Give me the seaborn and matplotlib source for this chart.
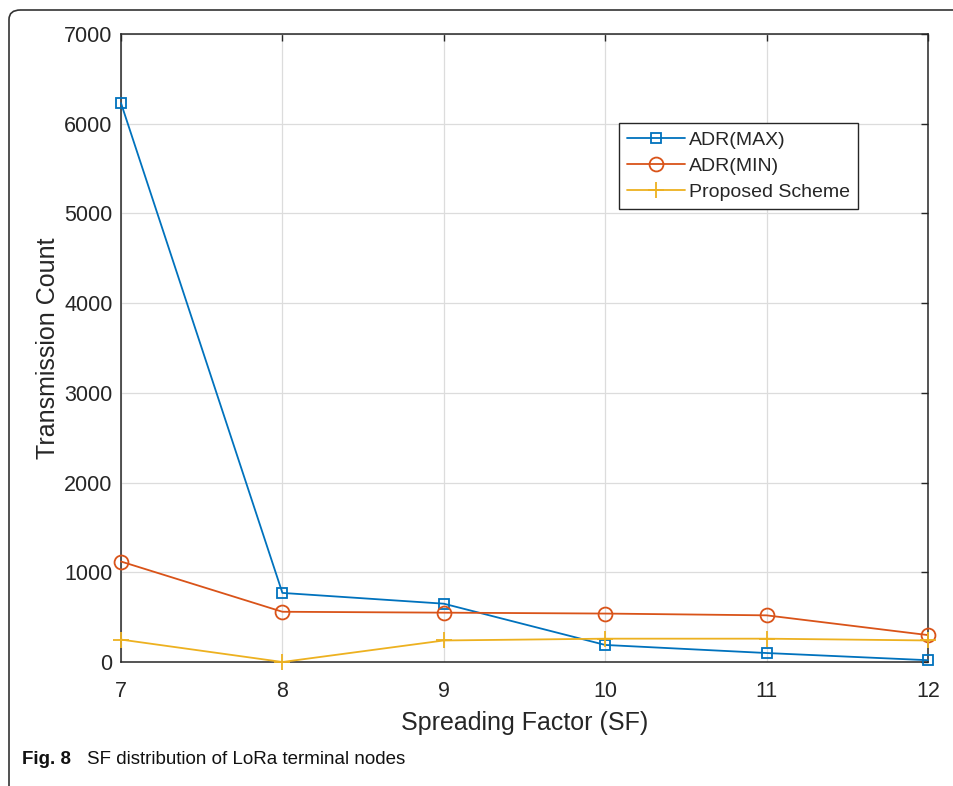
import matplotlib
matplotlib.use("Agg")
import matplotlib.pyplot as plt
from matplotlib.patches import FancyBboxPatch
import seaborn as sns
import pandas as pd

# Transmission counts per spreading factor
spreading_factor = [7, 8, 9, 10, 11, 12]
adr_max = [6230, 770, 650, 190, 100, 20]
adr_min = [1120, 560, 550, 540, 520, 300]
proposed = [250, 0, 240, 260, 260, 240]
series_names = ["ADR(MAX)", "ADR(MIN)", "Proposed Scheme"]
y_ticks = [0, 1000, 2000, 3000, 4000, 5000, 6000, 7000]

sns.set_theme(style="white")
plt.rcParams["font.family"] = ["Liberation Sans", "DejaVu Sans"]

df = pd.DataFrame({
    "SF": spreading_factor * 3,
    "count": adr_max + adr_min + proposed,
    "series": [series_names[0]] * 6 + [series_names[1]] * 6 + [series_names[2]] * 6,
})

fig = plt.figure(figsize=(9.54, 7.86), dpi=100)
ax = fig.add_axes([121 / 954, 1 - 662 / 786, (928 - 121) / 954, (662 - 34) / 786])

palette = {"ADR(MAX)": "#0072BD", "ADR(MIN)": "#D95319", "Proposed Scheme": "#EDB120"}
markers = {"ADR(MAX)": "s", "ADR(MIN)": "o", "Proposed Scheme": "+"}
sizes = {"ADR(MAX)": 7.5, "ADR(MIN)": 10, "Proposed Scheme": 12}

for name in series_names:
    sub = df[df["series"] == name]
    sns.lineplot(data=sub, x="SF", y="count", ax=ax, color=palette[name],
                 marker=markers[name], markersize=sizes[name],
                 markerfacecolor="none", markeredgecolor=palette[name],
                 markeredgewidth=1.3, linewidth=1.3, label=name)
for line in ax.lines:
    line.set_clip_on(False)
    line.set_zorder(5)

ax.set_xlim(7, 12)
ax.set_ylim(0, 7000)
ax.set_xticks(spreading_factor)
ax.set_yticks(y_ticks)
ax.grid(True, color="#dcdcdc", linewidth=0.9)
ax.tick_params(direction="in", length=5, width=1, colors="#262626",
               labelsize=15.5, top=True, right=True)
ax.tick_params(axis="x", pad=14)
ax.tick_params(axis="y", pad=6)
for tl in ax.get_xticklabels() + ax.get_yticklabels():
    tl.set_color("#262626")
for s in ax.spines.values():
    s.set_color("#262626")
    s.set_linewidth(1.1)
    s.set_zorder(4)

ax.set_xlabel("Spreading Factor (SF)", fontsize=18, color="#262626", labelpad=6)
ax.set_ylabel("Transmission Count", fontsize=18, color="#262626", labelpad=3)

leg = ax.legend(loc="upper right", bbox_to_anchor=(0.913, 0.858), fontsize=14,
                frameon=True, fancybox=False, edgecolor="#262626",
                handlelength=3.0, handletextpad=0.2, borderpad=0.4,
                labelspacing=0.45, borderaxespad=0, framealpha=1)
leg.get_frame().set_linewidth(1.0)
leg.set_zorder(6)
for t in leg.get_texts():
    t.set_color("#262626")

# rounded frame around figure and caption
frame = FancyBboxPatch((9 / 954, -0.05), 1.2, 1 - 10 / 786 + 0.05,
                       boxstyle="round,pad=0,rounding_size=0.012",
                       transform=fig.transFigure, fill=False,
                       edgecolor="#333333", linewidth=1.2)
fig.patches.append(frame)

fig.text(22 / 954, 1 - 760 / 786, "Fig. 8", fontsize=13.5, fontweight="bold",
         va="center", color="#111111")
fig.text(87 / 954, 1 - 760 / 786, "SF distribution of LoRa terminal nodes", fontsize=13.5,
         va="center", color="#111111")

fig.savefig("out.png", dpi=100)
